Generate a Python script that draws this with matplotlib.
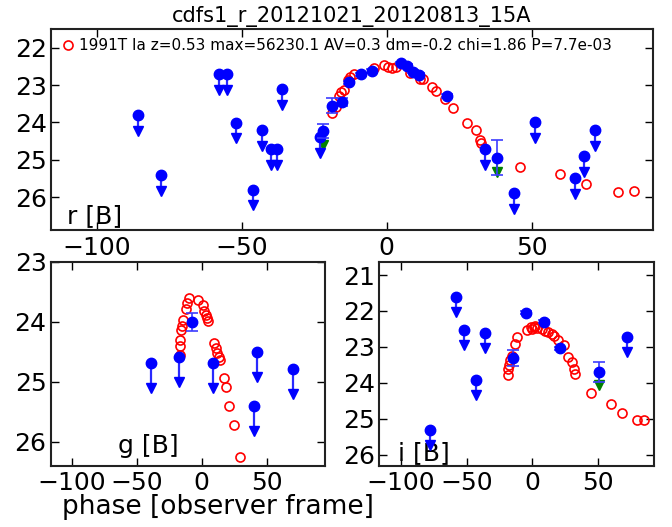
#!/usr/bin/env python3
# -*- coding: utf-8 -*-
"""
Light curve of cdfs1_r_20121021_20120813_15A in r, g, i with a 1991T template fit
"""
import matplotlib
matplotlib.use('agg')
import matplotlib.pyplot as plt
import numpy as np

# PARAMS ----------------------------------------------------------------------
plt.rc('xtick', labelsize=18)
plt.rc('ytick', labelsize=18)
plt.rc('xtick', direction='in', top=True)
plt.rc('ytick', direction='in', right=True)
plt.rc('xtick.major', size=6, width=1, pad=4)
plt.rc('ytick.major', size=6, width=1, pad=3)
plt.rc('axes', linewidth=1.5, edgecolor='#222222')

title = 'cdfs1_r_20121021_20120813_15A'
fit_label = '1991T Ia z=0.53 max=56230.1 AV=0.3 dm=-0.2 chi=1.86 P=7.7e-03'
xlabel = 'phase [observer frame]'
ticks_x = [-100, -50, 0, 50]

# DATA ------------------------------------------------------------------------
# r band
r_model_ph = [-19.0, -17.6, -16.5, -15.8, -14.8, -13.3, -12.8, -11.2, -4.3, -0.8,
              0.4, 1.8, 3.2, 8.0, 11.3, 12.6, 15.6, 17.0, 20.0, 23.0,
              27.7, 30.6, 32.0, 32.4, 46.0, 59.6, 68.6, 79.6, 85.3]
r_model_mag = [23.76, 23.58, 23.30, 23.20, 23.13, 22.86, 22.78, 22.71, 22.55, 22.47,
               22.52, 22.54, 22.52, 22.68, 22.84, 22.85, 23.04, 23.16, 23.38, 23.61,
               24.02, 24.21, 24.46, 24.55, 25.19, 25.39, 25.64, 25.87, 25.83]
r_det_ph = [-21.9, -19.0, -15.5, -13.0, -9.0, -5.2, 4.8, 6.9, 9.2, 11.1, 20.9, 37.9]
r_det_mag = [24.23, 23.55, 23.45, 22.93, 22.71, 22.62, 22.42, 22.48, 22.64, 22.73, 23.30, 24.94]
r_det_err = [0.20, 0.19, 0.10, 0.05, 0.04, 0.05, 0.03, 0.03, 0.04, 0.04, 0.05, 0.46]
r_lim_ph = [-85.9, -77.8, -57.9, -55.0, -51.9, -46.0, -43.0, -40.1, -37.9, -36.0,
            -23.0, 34.0, 44.0, 51.1, 64.9, 67.9, 71.8]
r_lim_mag = [23.80, 25.41, 22.70, 22.70, 24.01, 25.80, 24.21, 24.71, 24.71, 23.11,
             24.39, 24.71, 25.90, 24.00, 25.50, 24.90, 24.21]
r_weak_ph = [-21.9, 37.9]
r_weak_mag = [24.23, 24.94]

# g band
g_model_ph = [-16.7, -16.7, -16.7, -15.9, -15.4, -14.1, -12.3, -11.5, -9.8, -2.6,
              1.3, 1.8, 3.0, 4.0, 5.0, 9.7, 10.8, 11.8, 13.3, 14.3,
              17.4, 18.7, 21.2, 24.8, 29.5]
g_model_mag = [24.56, 24.40, 24.31, 24.13, 24.07, 23.97, 23.78, 23.68, 23.61, 23.63,
               23.72, 23.82, 23.89, 23.94, 23.98, 24.36, 24.44, 24.52, 24.58, 24.64,
               24.93, 25.08, 25.40, 25.72, 26.25]
g_det_ph = [-7.7]
g_det_mag = [24.00]
g_det_err = [0.15]
g_lim_ph = [-39.0, -17.5, 8.5, 40.2, 42.3, 70.5]
g_lim_mag = [24.69, 24.59, 24.69, 25.40, 24.50, 24.79]

# i band
i_model_ph = [-18.9, -18.2, -18.0, -16.9, -15.6, -13.6, -11.4, -4.3, -1.2, -0.5,
              1.0, 2.2, 3.3, 7.1, 9.5, 12.0, 14.5, 16.5, 19.5, 23.6,
              27.3, 30.0, 31.5, 32.3, 44.3, 59.6, 68.3, 79.1, 84.8]
i_model_mag = [23.78, 23.62, 23.50, 23.37, 23.25, 22.92, 22.71, 22.53, 22.44, 22.51,
               22.45, 22.42, 22.47, 22.51, 22.55, 22.57, 22.63, 22.70, 22.80, 22.94,
               23.27, 23.42, 23.62, 23.75, 24.29, 24.58, 24.84, 25.03, 25.03]
i_det_ph = [-15.0, -5.2, 9.1, 21.0, 50.7]
i_det_mag = [23.31, 22.05, 22.30, 23.04, 23.69]
i_det_err = [0.22, 0.04, 0.04, 0.04, 0.28]
i_lim_ph = [-78.0, -57.8, -51.7, -42.9, -36.1, 71.5]
i_lim_mag = [25.31, 21.62, 22.53, 23.92, 22.62, 22.71]
i_weak_ph = [50.7]
i_weak_mag = [23.69]
# END PARAMS ------------------------------------------------------------------


def plot_band(ax, model_ph, model_mag, det_ph, det_mag, det_err,
              lim_ph, lim_mag, weak_ph=None, weak_mag=None, label=None):
    # template (open red circles)
    ax.plot(model_ph, model_mag, 'o', mfc='none', mec='r', mew=1.2, ms=6.5,
            label=label, zorder=2)
    # weak detections: green arrow below the point
    if weak_ph:
        wm = np.array(weak_mag)
        ax.vlines(weak_ph, wm, wm + 0.38, color='g', lw=1.5, zorder=3)
        ax.plot(weak_ph, wm + 0.38, 'v', color='g', ms=6.5, zorder=3)
    # upper limits: blue dot with arrow
    lm = np.array(lim_mag)
    ax.vlines(lim_ph, lm, lm + 0.45, color='#2a2aff', lw=1.6, zorder=3)
    ax.plot(lim_ph, lm + 0.42, 'v', color='b', ms=7, zorder=4)
    ax.plot(lim_ph, lm, 'o', color='b', mec='b', ms=7.5, zorder=4)
    # detections with errors
    ax.errorbar(det_ph, det_mag, yerr=det_err, fmt='o', color='b', mec='b',
                ms=7.5, ecolor='#3c3cff', elinewidth=1.2, capsize=4,
                capthick=1.2, zorder=5)


fig = plt.figure(figsize=(6.72, 5.27), dpi=100)
ax_r = fig.add_axes([0.0759, 0.5636, 0.8958, 0.3814])
ax_g = fig.add_axes([0.0754, 0.1163, 0.4082, 0.3871])
ax_i = fig.add_axes([0.5644, 0.1163, 0.4088, 0.3871])

plot_band(ax_r, r_model_ph, r_model_mag, r_det_ph, r_det_mag, r_det_err,
          r_lim_ph, r_lim_mag, r_weak_ph, r_weak_mag, label=fit_label)
plot_band(ax_g, g_model_ph, g_model_mag, g_det_ph, g_det_mag, g_det_err,
          g_lim_ph, g_lim_mag)
plot_band(ax_i, i_model_ph, i_model_mag, i_det_ph, i_det_mag, i_det_err,
          i_lim_ph, i_lim_mag, i_weak_ph, i_weak_mag)

ax_r.set_xlim(-115.8, 91.8)
ax_r.set_ylim(26.88, 21.5)
ax_r.set_yticks([22, 23, 24, 25, 26])
ax_g.set_xlim(-116.2, 94.8)
ax_g.set_ylim(26.4, 23.0)
ax_g.set_yticks([23, 24, 25, 26])
ax_i.set_xlim(-116.2, 92.2)
ax_i.set_ylim(26.3, 20.63)
ax_i.set_yticks([21, 22, 23, 24, 25, 26])
for ax in (ax_r, ax_g, ax_i):
    ax.set_xticks(ticks_x)

ax_r.set_title(title, fontsize=15, pad=5)
ax_r.legend(loc='upper left', frameon=False, fontsize=11, numpoints=1,
            handlelength=1.0, handletextpad=0.2, borderaxespad=0.2)

ax_r.text(0.026, 0.035, 'r [B]', transform=ax_r.transAxes, fontsize=18,
          va='baseline', ha='left')
ax_g.text(0.245, 0.06, 'g [B]', transform=ax_g.transAxes, fontsize=18,
          va='baseline', ha='left')
ax_i.text(0.068, 0.028, 'i [B]', transform=ax_i.transAxes, fontsize=18,
          va='baseline', ha='left')

fig.text(218 / 672., 1 - 507 / 527., xlabel, ha='center', va='center', fontsize=19)

plt.savefig('out.png', dpi=100)
plt.close()
